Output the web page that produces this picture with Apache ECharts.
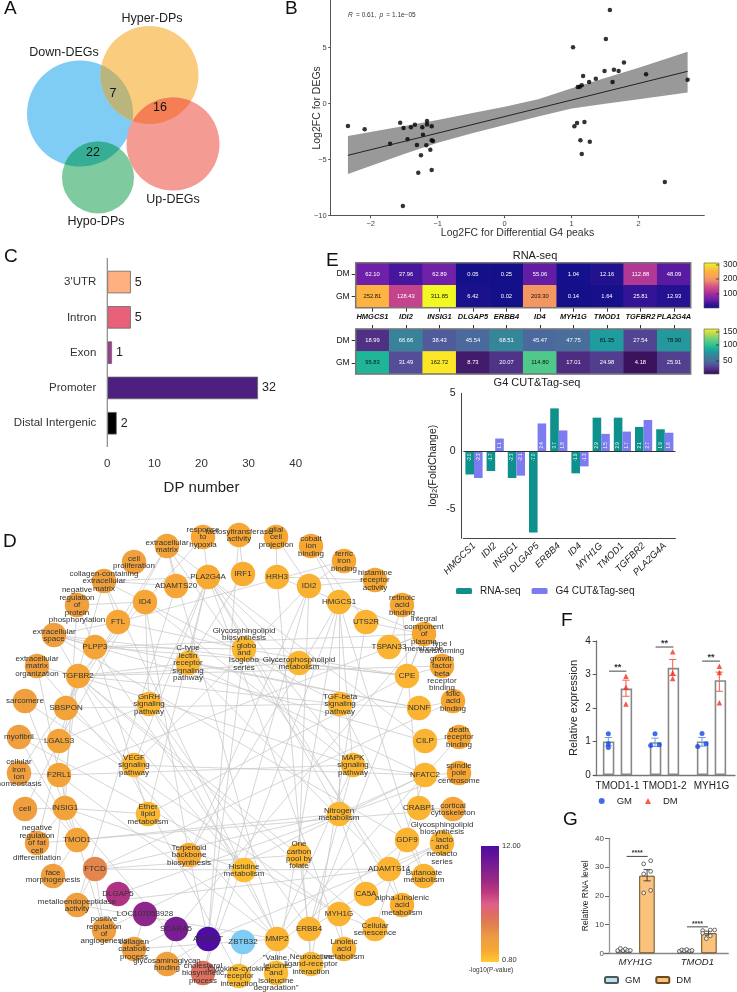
<!DOCTYPE html>
<html><head><meta charset="utf-8">
<style>html,body{margin:0;padding:0;background:#fff}#c{width:737px;height:992px}</style>
<script src="https://cdn.jsdelivr.net/npm/echarts@6/dist/echarts.min.js"></script>
</head><body><div id="c"></div>
<script>
const FONT='"Liberation Sans",Arial,sans-serif';
// A: Venn
const vennNames=['Down-DEGs','Hyper-DPs','Up-DEGs','Hypo-DPs'];
const vennCenters=[[80,113.5],[149.5,75],[173,144],[98,177.5]];
const vennRadii=[53,49,46.5,36];
const vennColors=['#7FCDF5','#F9CC7E','#F49B93','#7FCB9F'];
const vennOverlaps=[[0,1],[1,2],[0,3]];
const vennOverlapColors=['#B9B57C','#F47F55','#35AE95'];
const vennOverlapCounts=['7','16','22'];
// B: scatter
const scatterX=[-2.34,-2.09,-1.56,-1.51,-1.40,-1.34,-1.16,-1.16,-1.09,-1.23,-1.22,-1.45,-1.71,-1.31,-1.17,-1.09,-1.07,-1.11,-1.25,-1.29,-1.09,-1.52,1.02,1.51,1.57,1.17,1.49,1.63,1.70,1.78,2.11,2.73,1.61,1.36,1.26,1.15,1.12,1.09,1.04,1.08,1.19,1.13,1.27,1.15,2.39];
const scatterY=[-1.99,-2.29,-1.70,-2.17,-2.11,-1.88,-1.55,-1.85,-2.02,-2.11,-2.77,-3.18,-3.57,-3.69,-3.72,-3.27,-3.33,-4.11,-4.61,-6.16,-5.92,-9.14,5.03,5.77,8.36,2.47,2.92,3.04,2.92,3.69,2.62,2.14,1.93,2.23,1.93,1.64,1.52,1.49,-2.02,-1.73,-1.64,-3.27,-3.39,-4.49,-6.99];
const fitLine=[[-2.34,-4.61],[2.73,2.89]];
const bandX=[-2.34,-1.5,-1,-0.5,0,0.5,1,1.5,2,2.73];
const bandUpper=[-2.89,-2.0,-1.46,-0.85,-0.27,0.4,1.37,2.3,3.2,4.64];
const bandLower=[-6.28,-4.5,-3.48,-2.65,-1.9,-1.15,-0.42,0.0,0.4,1.01];
// C: bars
const regionNames=["3'UTR",'Intron','Exon','Promoter','Distal Intergenic'];
const regionCounts=[5,5,1,32,2];
const regionColors=['#FFB07F','#E8607A','#9E3C92','#4E1F80','#000000'];
// E
const genes=['HMGCS1','IDI2','INSIG1','DLGAP5','ERBB4','ID4','MYH1G','TMOD1','TGFBR2','PLA2G4A'];
const rnaDM=[62.10,37.96,62.89,0.05,0.25,55.06,1.04,12.16,112.88,48.09];
const rnaGM=[252.81,128.43,311.85,6.42,0.02,203.30,0.14,1.64,25.81,12.93];
const g4DM=[18.99,66.66,38.43,45.54,68.51,45.47,47.75,81.35,27.54,78.90];
const g4GM=[95.83,31.49,162.72,8.73,20.07,114.80,17.01,24.98,4.18,25.91];
const foldRNA=[-2.0,-1.7,-2.3,-7.0,3.7,-1.9,2.9,2.9,2.1,1.9];
const foldG4=[-2.3,1.1,-2.1,2.4,1.8,-1.3,1.5,1.7,2.7,1.6];
// F
const fCats=['TMOD1-1','TMOD1-2','MYH1G'];
const fGM=[1.0,0.98,1.0];
const fDM=[2.58,3.2,2.83];
const fGMErr=[[0.305,0.87,1.12],[1.298,0.85,1.1],[2.298,0.86,1.12]];
const fDMErr=[[0.68,2.35,2.83],[1.674,2.97,3.45],[2.667,2.5,3.07]];
const fGMPts=[[0.305,1.23],[0.305,0.93],[0.305,0.82],[1.298,1.23],[1.206,0.88],[1.389,0.9],[2.298,1.24],[2.206,0.85],[2.383,0.93]];
const fDMPts=[[0.68,2.95],[0.68,2.62],[0.68,2.12],[1.674,3.68],[1.674,3.05],[1.674,2.88],[2.667,3.25],[2.667,3.06],[2.667,2.16]];
const fSig=[[0.32,0.69,3.1],[1.31,1.69,3.82],[2.30,2.68,3.4]];
// G
const gCats=['MYH1G','TMOD1'];
const gGM=[1,1];
const gDM=[27,7];
const gDMErr=[[0.69,25.2,29.1],[1.68,6.3,7.7]];
const gGMPts=[[0.216,0.93],[0.259,1.7],[0.302,0.93],[0.34,1.5],[0.377,0.93],[0.42,1.0],[1.21,0.7],[1.25,1.2],[1.29,0.9],[1.33,1.3],[1.378,0.8],[1.415,1.0]];
const gDMPts=[[0.635,31.1],[0.748,32.2],[0.635,27.6],[0.748,28.5],[0.635,21],[0.748,21.9],[1.587,7.9],[1.71,8.1],[1.78,8.1],[1.645,5.1],[1.71,6.1],[1.587,7.0]];
const gSig=[[0.36,0.7,33.7],[1.334,1.673,9.2]];
// D: network [label, x, y, -log10(P)]
const networkNodes=[
['extracellular\nmatrix',167,546,2.5],['response\nto\nhypoxia',203,537,2.2],['lactosyltransferase\nactivity',239,535,2.0],['glial\ncell\nprojection',276,537,2.0],['cobalt\nion\nbinding',311,546,2.0],['ferric\niron\nbinding',344,561,2.0],['histamine\nreceptor\nactivity',375,580,2.0],['retinoic\nacid\nbinding',402,605,2.0],['integral\ncomponent\nof\nplasma\nmembrane',424,634,2.0],['type I\ntransforming\ngrowth\nfactor\nbeta\nreceptor\nbinding',442,666,2.0],['folic\nacid\nbinding',453,701,2.0],['death\nreceptor\nbinding',459,737,2.0],['spindle\npole\ncentrosome',459,773,2.0],['cortical\ncytoskeleton',453,809,2.2],['Glycosphingolipid\nbiosynthesis\n- lacto\nand\nneolacto\nseries',442,843,1.6],['Butanoate\nmetabolism',424,876,1.5],['alpha-Linolenic\nacid\nmetabolism',402,905,1.7],['Cellular\nsenescence',375,929,1.5],['Linoleic\nacid\nmetabolism',344,949,1.6],['Neuroactive\nligand-receptor\ninteraction',311,964,1.3],['"Valine,\nleucine\nand\nisoleucine\ndegradation"',276,973,1.3],['Cytokine-cytokine\nreceptor\ninteraction',239,976,1.3],['cholesterol\nbiosynthetic\nprocess',203,973,5.2],['glycosaminoglycan\nbinding',167,964,2.9],['collagen\ncatabolic\nprocess',134,949,2.9],['positive\nregulation\nof\nangiogenesis',104,930,2.9],['metalloendopeptidase\nactivity',77,905,2.9],['face\nmorphogenesis',53,876,2.9],['negative\nregulation\nof fat\ncell\ndifferentiation',37,843,2.9],['cell',25,809,2.9],['cellular\niron\nion\nhomeostasis',19,773,2.9],['myofibril',19,737,2.9],['sarcomere',25,701,2.9],['extracellular\nmatrix\norganization',37,666,2.9],['extracellular\nspace',54,635,2.9],['negative\nregulation\nof\nprotein\nphosphorylation',77,605,2.9],['collagen-containing\nextracellular\nmatrix',104,581,2.9],['cell\nproliferation',134,562,2.7],
['PLA2G4A',208,577,1.9],['IRF1',243,574,1.8],['HRH3',277,577,1.6],['IDI2',309,586,1.6],['HMGCS1',339,602,1.5],['UTS2R',366,622,1.5],['TSPAN33',389,647,1.5],['CPE',407,676,1.5],['NDNF',419,708,1.5],['CILP',425,741,1.5],['NFATC2',425,775,1.5],['CRABP1',419,808,1.5],['GDF9',407,840,1.5],['ADAMTS14',389,869,1.5],['CA5A',366,894,1.5],['MYH1G',339,914,1.5],['ERBB4',309,929,1.5],['MMP2',277,939,1.5],['ZBTB32',243,942,0.5],['A4GALT',208,939,12],['SCARA5',176,929,10],['LOC107053928',145,914,9.2],['DLGAP5',118,894,8],['FTCD',95,869,4.2],['TMOD1',77,840,2.5],['INSIG1',65,808,2.5],['F2RL1',59,775,2.5],['LGALS3',59,741,2.5],['SBSPON',66,708,2.5],['TGFBR2',78,676,2.3],['PLPP3',95,647,2.3],['FTL',118,622,2.2],['ID4',145,602,2.2],['ADAMTS20',176,586,2.2],
['C-type\nlectin\nreceptor\nsignaling\npathway',188,663,1.4],['Glycosphingolipid\nbiosynthesis\n- globo\nand\nisoglobo\nseries',244,649,1.4],['Glycerophospholipid\nmetabolism',299,663,1.4],['GnRH\nsignaling\npathway',149,704,1.4],['TGF-beta\nsignaling\npathway',340,704,1.4],['VEGF\nsignaling\npathway',134,765,1.4],['MAPK\nsignaling\npathway',353,765,1.4],['Ether\nlipid\nmetabolism',148,814,1.4],['Nitrogen\nmetabolism',339,814,1.4],['Terpenoid\nbackbone\nbiosynthesis',189,855,1.8],['One\ncarbon\npool by\nfolate',299,855,1.4],['Histidine\nmetabolism',244,870,1.2]
];
const networkEdges={
'extracellular matrix':['ADAMTS20','ADAMTS14','MMP2','LGALS3','CILP','SBSPON'],
'response to hypoxia':['PLA2G4A','TGFBR2'],
'lactosyltransferase activity':['IRF1','A4GALT'],
'glial cell projection':['HRH3','IDI2'],
'cobalt ion binding':['UTS2R','HMGCS1'],
'ferric iron binding':['IDI2','FTL'],
'histamine receptor activity':['HRH3','IDI2'],
'retinoic acid binding':['CRABP1','TSPAN33'],
'integral component of plasma membrane':['UTS2R','TSPAN33','HRH3','SCARA5','ERBB4','F2RL1','PLPP3','CPE'],
'type I transforming growth factor beta receptor binding':['TGFBR2','CPE'],
'folic acid binding':['FTCD','NDNF'],
'death receptor binding':['CILP','MMP2'],
'spindle pole centrosome':['DLGAP5','NFATC2'],
'cortical cytoskeleton':['CRABP1','TMOD1'],
'collagen-containing extracellular matrix':['PLA2G4A','ADAMTS20','ID4','LGALS3','MMP2','FTL'],
'negative regulation of protein phosphorylation':['PLPP3','ID4','INSIG1'],
'extracellular space':['PLPP3','TGFBR2','FTL','GDF9','CILP','NDNF','CPE'],
'extracellular matrix organization':['TGFBR2','MMP2','F2RL1'],
'sarcomere':['MYH1G','TMOD1'],
'myofibril':['MYH1G','TMOD1','LGALS3'],
'cellular iron ion homeostasis':['FTL','F2RL1','TMOD1'],
'cell':['LGALS3','INSIG1'],
'negative regulation of fat cell differentiation':['INSIG1','TMOD1','TGFBR2'],
'face morphogenesis':['TGFBR2','TMOD1'],
'metalloendopeptidase activity':['ADAMTS20','ADAMTS14','MMP2','FTCD'],
'positive regulation of angiogenesis':['F2RL1','NFATC2','FTCD'],
'collagen catabolic process':['MMP2','SCARA5','LOC107053928'],
'glycosaminoglycan binding':['SCARA5','A4GALT'],
'cholesterol biosynthetic process':['HMGCS1','IDI2','INSIG1'],
'Cytokine-cytokine receptor interaction':['TGFBR2','GDF9','ZBTB32'],
'"Valine, leucine and isoleucine degradation"':['HMGCS1','MMP2'],
'Neuroactive ligand-receptor interaction':['HRH3','UTS2R','F2RL1','ERBB4'],
'Linoleic acid metabolism':['PLA2G4A','MYH1G'],
'Cellular senescence':['TGFBR2','NFATC2','MYH1G'],
'alpha-Linolenic acid metabolism':['PLA2G4A','ADAMTS14'],
'Butanoate metabolism':['HMGCS1','GDF9'],
'Glycosphingolipid biosynthesis - lacto and neolacto series':['A4GALT','ADAMTS14','ERBB4'],
'One carbon pool by folate':['FTCD','TGFBR2','IDI2','ERBB4'],
'Nitrogen metabolism':['CA5A','FTCD','PLA2G4A','HMGCS1','TMOD1','NFATC2'],
'Histidine metabolism':['FTCD','TGFBR2','PLPP3','ADAMTS14','INSIG1'],
'Terpenoid backbone biosynthesis':['IDI2','HMGCS1','A4GALT','ID4'],
'Ether lipid metabolism':['PLA2G4A','PLPP3','INSIG1','CPE'],
'VEGF signaling pathway':['PLA2G4A','NFATC2','IDI2','SBSPON'],
'MAPK signaling pathway':['PLA2G4A','TGFBR2','ERBB4','NFATC2','ID4','HMGCS1','MMP2','F2RL1'],
'TGF-beta signaling pathway':['TGFBR2','ID4','GDF9','NDNF','SBSPON'],
'GnRH signaling pathway':['PLA2G4A','MMP2','ERBB4','ID4','LGALS3'],
'Glycerophospholipid metabolism':['PLA2G4A','PLPP3','CPE','TGFBR2'],
'Glycosphingolipid biosynthesis - globo and isoglobo series':['A4GALT','PLPP3','CPE','TSPAN33','FTL'],
'C-type lectin receptor signaling pathway':['PLA2G4A','NFATC2','IRF1','TGFBR2','ADAMTS14','NDNF']
};
// colour scales
const networkRamp=['#FFC933','#F7A832','#EE9E40','#E2874C','#DD6E60','#DE5F88','#BE3A80','#9A2A84','#7F2090','#661498','#4E0CA0'];
const plasmaRamp=['#14108A','#3A1499','#7020A8','#9C2AA0','#C0408F','#D65C82','#EE8A6A','#F8A256','#FDB042','#F6D03A','#F0F921'];
const viridisRamp=['#340A52','#4E2A80','#54509A','#48709C','#3A8098','#1F9C9E','#1FB896','#4CC98A','#80D070','#C0DC50','#FDE725'];
const outOfScaleColor='#7FCDF5';

function rampColor(ramp,t){
 t=Math.max(0,Math.min(1,t))*(ramp.length-1);
 const i=Math.min(Math.floor(t),ramp.length-2),f=t-i;
 const h=s=>[1,3,5].map(k=>parseInt(s.substr(k,2),16));
 const a=h(ramp[i]),b=h(ramp[i+1]);
 return 'rgb('+a.map((v,k)=>Math.round(v+(b[k]-v)*f)).join(',')+')';
}
const gradient=ramp=>ramp.map((c,i)=>({offset:1-i/(ramp.length-1),color:c}));

const lab=n=>n.replace(/\n/g,' ');
const idx={}; networkNodes.forEach((n,i)=>idx[lab(n[0])]=i);
const links=[];
Object.keys(networkEdges).forEach(k=>networkEdges[k].forEach(g=>{ if(idx[k]!==undefined&&idx[g]!==undefined) links.push({source:idx[k],target:idx[g]}); }));

function T(text,x,y,size,o){o=o||{};return {type:'text',z:50,silent:true,rotation:o.rot||0,x:x,y:y,style:Object.assign({text:text,fill:o.fill||'#222',font:(o.style||'')+' '+size+'px '+FONT,textAlign:o.align||'center',textVerticalAlign:'middle'},o.extra||{})};}
const graphic=[];
[['A',4,9],['B',285,9],['C',4,257],['D',3,542],['E',326,261],['F',561,621],['G',563,820]].forEach(p=>graphic.push(T(p[0],p[1],p[2],19,{align:'left',fill:'#111'})));
[['Hyper-DPs',152,19],['Down-DEGs',64,53],['Up-DEGs',173,200],['Hypo-DPs',96,222]].forEach(p=>graphic.push(T(p[0],p[1],p[2],12.5)));
[[113,94],[160,108],[93,153]].forEach((p,i)=>graphic.push(T(vennOverlapCounts[i],p[0],p[1],12.5,{fill:'#111'})));
graphic.push({type:'text',z:50,silent:true,x:348,y:15,style:{rich:{i:{fontStyle:'italic',fontSize:6.5,fontFamily:FONT,fill:'#333'},n:{fontSize:6.5,fontFamily:FONT,fill:'#333'}},text:'{i|R} {n|= 0.61,} {i|p} {n|= 1.1e−05}',textVerticalAlign:'middle'}});
graphic.push(T('RNA-seq',535,256,11));
graphic.push(T('G4 CUT&Tag-seq',537,383,11));
[['300',265],['200',279],['100',294]].forEach(p=>{graphic.push(T(p[0],723,p[1],8.5,{align:'left'}));graphic.push({type:'line',z:45,silent:true,shape:{x1:716,y1:p[1],x2:719,y2:p[1]},style:{stroke:'#222',lineWidth:0.7}});});
[['150',332],['100',345],['50',361]].forEach(p=>{graphic.push(T(p[0],723,p[1],8.5,{align:'left'}));graphic.push({type:'line',z:45,silent:true,shape:{x1:716,y1:p[1],x2:719,y2:p[1]},style:{stroke:'#222',lineWidth:0.7}});});
graphic.push(T('12.00',502,846,7.5,{align:'left',fill:'#333'}));
graphic.push(T('0.80',502,960,7.5,{align:'left',fill:'#333'}));
graphic.push(T('-log10(P-value)',491,970,6.5,{fill:'#333'}));
// colour bars
[[704,263,15,45,plasmaRamp],[704,329,15,45,viridisRamp],[481,846,18,116,networkRamp]].forEach(b=>graphic.push({type:'rect',z:40,silent:true,shape:{x:b[0],y:b[1],width:b[2],height:b[3]},style:{fill:new echarts.graphic.LinearGradient(0,0,0,1,gradient(b[4])),stroke:b[4]===networkRamp?null:'#555',lineWidth:0.6}}));
// heatmap frames and the extended axis of C
[[355.7,262.7,335,45],[355.7,329,335,45]].forEach(r=>graphic.push({type:'rect',z:40,silent:true,shape:{x:r[0],y:r[1],width:r[2],height:r[3]},style:{fill:'none',stroke:'#777',lineWidth:1.5}}));
graphic.push({type:'line',z:40,silent:true,shape:{x1:107.3,y1:258,x2:107.3,y2:447},style:{stroke:'#888',lineWidth:1.2}});

const grids=[],xAxes=[],yAxes=[],series=[];
function G(l,t,w,h){grids.push({left:l,top:t,width:w,height:h,containLabel:false,outerBoundsMode:'none'});return grids.length-1;}
const hidden=(g,min,max,inv)=>({gridIndex:g,type:'value',show:false,min:min,max:max,inverse:!!inv,splitLine:{show:false}});
const page=G(0,0,737,992); xAxes.push(hidden(page,0,737)); yAxes.push(hidden(page,0,992,true));
const P=0;

series.push({type:'graph',name:'network',coordinateSystem:'cartesian2d',xAxisIndex:P,yAxisIndex:P,layout:'none',silent:true,animation:false,symbol:'circle',symbolSize:24.5,z:2,
 data:networkNodes.map(n=>({name:n[0],value:[n[1],n[2]],symbolSize:24.5,itemStyle:{opacity:1,color:n[3]<0.8?outOfScaleColor:rampColor(networkRamp,(n[3]-0.8)/11.2)}})),links:links,
 lineStyle:{color:'#C8C8C8',width:0.75,opacity:1,curveness:0},
 label:{show:true,position:'inside',color:'#333',fontSize:8,lineHeight:7.4,fontFamily:FONT,align:'center',verticalAlign:'middle'}});

// A
series.push({type:'scatter',name:'venn',xAxisIndex:P,yAxisIndex:P,silent:true,animation:false,z:2,
 data:vennCenters.map((c,i)=>({name:vennNames[i],value:c,symbolSize:2*vennRadii[i],itemStyle:{color:vennColors[i],opacity:1}}))});
series.push({type:'custom',name:'venn overlap',xAxisIndex:P,yAxisIndex:P,silent:true,animation:false,clip:false,z:5,
 data:vennOverlaps.map(o=>[vennCenters[o[0]][0],vennCenters[o[0]][1]]),encode:{x:0,y:1},
 renderItem:(p,api)=>{
  const o=vennOverlaps[p.dataIndex],a=vennCenters[o[0]],b=vennCenters[o[1]],r=vennRadii[o[0]],s=vennRadii[o[1]];
  const dx=b[0]-a[0],dy=b[1]-a[1],d=Math.hypot(dx,dy),base=Math.atan2(dy,dx);
  const ha=Math.acos((d*d+r*r-s*s)/(2*d*r)),hb=Math.acos((d*d+s*s-r*r)/(2*d*s));
  const pts=[];
  for(let i=0;i<=30;i++){const t=base-ha+2*ha*i/30;pts.push(api.coord([a[0]+r*Math.cos(t),a[1]+r*Math.sin(t)]));}
  for(let i=0;i<=30;i++){const t=base+Math.PI-hb+2*hb*i/30;pts.push(api.coord([b[0]+s*Math.cos(t),b[1]+s*Math.sin(t)]));}
  return {type:'polygon',shape:{points:pts},style:{fill:vennOverlapColors[p.dataIndex]}};
 }});

// B
const gb=G(330.7,0,373.6,215.7);
const axB='#555';
xAxes.push({gridIndex:gb,type:'value',min:-2.597,max:2.979,splitLine:{show:false},axisLine:{lineStyle:{color:axB},onZero:false},axisTick:{customValues:[-2,-1,0,1,2],length:2.5,lineStyle:{color:axB}},axisLabel:{customValues:[-2,-1,0,1,2],fontSize:7.5,color:'#444',margin:4,fontFamily:FONT,formatter:v=>String(v).replace('-','−')},name:'Log2FC for Differential G4 peaks',nameLocation:'middle',nameGap:12,nameMoveOverlap:false,nameTextStyle:{fontSize:10.5,color:'#333',fontFamily:FONT}});
yAxes.push({gridIndex:gb,type:'value',min:-10,max:9.26,splitLine:{show:false},axisLine:{show:true,lineStyle:{color:axB},onZero:false},axisTick:{customValues:[-10,-5,0,5],length:2.5,lineStyle:{color:axB}},axisLabel:{customValues:[-10,-5,0,5],fontSize:7.5,color:'#444',margin:4,fontFamily:FONT,formatter:v=>String(v).replace('-','−')},name:'Log2FC for DEGs',nameLocation:'middle',nameGap:8,nameMoveOverlap:false,nameTextStyle:{fontSize:10.5,color:'#333',fontFamily:FONT}});
const bx=xAxes.length-1,by=yAxes.length-1;
series.push({type:'custom',name:'band',xAxisIndex:bx,yAxisIndex:by,silent:true,animation:false,data:[[bandX[0],bandUpper[0]]],encode:{x:0,y:1},
 renderItem:(p,api)=>{const pts=bandX.map((x,i)=>api.coord([x,bandUpper[i]])).concat(bandX.map((x,i)=>api.coord([x,bandLower[i]])).reverse());
  return {type:'polygon',shape:{points:pts},style:{fill:'#999999'}};}});
series.push({type:'line',name:'fit',xAxisIndex:bx,yAxisIndex:by,data:fitLine,showSymbol:false,silent:true,animation:false,lineStyle:{color:'#222',width:1}});
series.push({type:'scatter',name:'peaks',xAxisIndex:bx,yAxisIndex:by,data:scatterX.map((x,i)=>[x,scatterY[i]]),symbolSize:4.5,silent:true,animation:false,itemStyle:{color:'#000'}});

// C
const gc=G(107.3,264.4,188.4,176.5);
xAxes.push({gridIndex:gc,type:'value',min:0,max:40,interval:10,offset:5.8,splitLine:{show:false},axisLine:{lineStyle:{color:'#999',width:1.5},onZero:false},axisTick:{lineStyle:{color:'#888'},length:5},axisLabel:{fontSize:11.5,color:'#333',margin:11,fontFamily:FONT},name:'DP number',nameLocation:'middle',nameGap:34,nameMoveOverlap:false,nameTextStyle:{fontSize:15,color:'#222',fontFamily:FONT}});
yAxes.push({gridIndex:gc,type:'category',inverse:true,data:regionNames,axisLine:{show:false},axisTick:{alignWithLabel:true,length:7,lineStyle:{color:'#777'}},axisLabel:{fontSize:11.5,color:'#333',margin:11,fontFamily:FONT}});
series.push({type:'bar',name:'DP number',xAxisIndex:xAxes.length-1,yAxisIndex:yAxes.length-1,barWidth:22.5,silent:true,animation:false,
 data:regionCounts.map((v,i)=>({value:v,itemStyle:{color:regionColors[i],borderColor:'#666',borderWidth:0.8}})),
 label:{show:true,position:'right',distance:4,fontSize:12.5,color:'#222',fontFamily:FONT}});

// E heatmaps
function heat(top,dm,gm,showLabels,tickTop,cut){
 const g=G(355.7,top,335,45);
 xAxes.push({gridIndex:g,type:'category',data:genes,position:tickTop?'top':'bottom',splitArea:{show:false},axisLine:{show:false},axisTick:{show:true,alignWithLabel:true,length:4,lineStyle:{color:'#333'}},axisLabel:{show:showLabels,fontSize:7.5,fontStyle:'italic',fontWeight:'bold',color:'#111',margin:5,fontFamily:FONT,interval:0}});
 yAxes.push({gridIndex:g,type:'category',data:['GM','DM'],splitArea:{show:false},axisLine:{show:false},axisTick:{show:true,alignWithLabel:true,length:4,lineStyle:{color:'#333'}},axisLabel:{fontSize:8.5,color:'#111',margin:6,fontFamily:FONT}});
 const data=[];
 genes.forEach((n,i)=>{data.push({value:[i,1,dm[i]],label:{color:dm[i]>cut?'#111':'#fff'}});data.push({value:[i,0,gm[i]],label:{color:gm[i]>cut?'#111':'#fff'}});});
 series.push({type:'heatmap',name:'heat'+top,xAxisIndex:xAxes.length-1,yAxisIndex:yAxes.length-1,data:data,silent:true,animation:false,
  label:{show:true,fontSize:5.8,fontFamily:FONT,formatter:p=>p.value[2].toFixed(2)}});
 return series.length-1;
}
const h1=heat(262.7,rnaDM,rnaGM,true,false,200);
const h2=heat(329,g4DM,g4GM,false,true,75);

// E fold change
const ge=G(463.4,393.3,212,145);
xAxes.push({gridIndex:ge,type:'category',data:genes,axisLine:{lineStyle:{color:'#444'},onZero:false},axisTick:{alignWithLabel:true,length:4,lineStyle:{color:'#444'}},axisLabel:{interval:0,rotate:45,fontSize:9.5,fontStyle:'italic',color:'#222',margin:6,fontFamily:FONT}});
yAxes.push({gridIndex:ge,type:'value',min:-7.5,max:5,offset:1.7,splitLine:{show:false},axisLine:{show:true,onZero:false,lineStyle:{color:'#444'}},axisTick:{customValues:[-5,0,5],length:4,lineStyle:{color:'#444'}},axisLabel:{customValues:[-5,0,5],fontSize:10.5,color:'#222',margin:6,fontFamily:FONT},
 name:'{a|log}{b|2}{a|(FoldChange)}',nameLocation:'middle',nameGap:23,nameMoveOverlap:false,nameTextStyle:{rich:{a:{fontSize:10.5,color:'#222',fontFamily:FONT},b:{fontSize:7,color:'#222',fontFamily:FONT,verticalAlign:'bottom',padding:[4,0,0,0]}}}});
const foldData=arr=>arr.map(v=>({value:v,label:{position:v<0?'insideTop':'insideBottom'}}));
const foldLabel={show:true,rotate:90,fontSize:4.5,color:'#fff',distance:6,align:'center',verticalAlign:'middle',fontFamily:FONT,formatter:p=>p.value.toFixed(1)};
const ex=xAxes.length-1,ey=yAxes.length-1;
series.push({type:'bar',name:'RNA-seq',xAxisIndex:ex,yAxisIndex:ey,barWidth:8.6,barGap:'0%',data:foldData(foldRNA),itemStyle:{color:'#0E918C'},label:foldLabel,animation:false,
 markLine:{silent:true,symbol:'none',animation:false,label:{show:false},lineStyle:{color:'#333',width:1,type:'solid'},data:[{yAxis:0}]}});
series.push({type:'bar',name:'G4 CUT&Tag-seq',xAxisIndex:ex,yAxisIndex:ey,barWidth:8.6,barGap:'0%',data:foldData(foldG4),itemStyle:{color:'#7C7CF0'},label:foldLabel,animation:false});

// error bars and brackets
function errSeries(name,xi,yi,data,color,cap,lw){
 series.push({type:'custom',name:name,xAxisIndex:xi,yAxisIndex:yi,silent:true,animation:false,data:data,encode:{x:0,y:[1,2]},z:3,
  renderItem:(p,api)=>{const x=api.value(0),a=api.coord([x,api.value(1)]),b=api.coord([x,api.value(2)]);
   const st={stroke:color,lineWidth:lw,fill:null};
   return {type:'group',children:[{type:'line',shape:{x1:a[0],y1:a[1],x2:b[0],y2:b[1]},style:st},{type:'line',shape:{x1:a[0]-cap,y1:a[1],x2:a[0]+cap,y2:a[1]},style:st},{type:'line',shape:{x1:b[0]-cap,y1:b[1],x2:b[0]+cap,y2:b[1]},style:st}]};}});
}
function sigSeries(name,xi,yi,data,stars,size,lift){
 series.push({type:'custom',name:name,xAxisIndex:xi,yAxisIndex:yi,silent:true,animation:false,data:data,encode:{x:[0,1],y:2},z:4,
  renderItem:(p,api)=>{const a=api.coord([api.value(0),api.value(2)]),b=api.coord([api.value(1),api.value(2)]);
   return {type:'group',children:[{type:'line',shape:{x1:a[0],y1:a[1],x2:b[0],y2:b[1]},style:{stroke:'#333',lineWidth:0.9}},
    {type:'text',style:{text:stars,x:(a[0]+b[0])/2,y:a[1]-lift,font:'bold '+size+'px '+FONT,fill:'#333',textAlign:'center',textVerticalAlign:'middle'}}]};}});
}

// F
const gf=G(594,641,141,134);
xAxes.push({gridIndex:gf,type:'category',data:fCats,axisLine:{lineStyle:{color:'#777',width:1.3},onZero:false},axisTick:{alignWithLabel:true,length:3,lineStyle:{color:'#555'}},axisLabel:{interval:0,fontSize:10,color:'#222',margin:6,fontFamily:FONT}});
const fcx=xAxes.length-1;
xAxes.push(hidden(gf,0,3)); const fvx=xAxes.length-1;
yAxes.push({gridIndex:gf,type:'value',min:0,max:4,interval:1,offset:-2.7,splitLine:{show:false},axisLine:{show:true,onZero:false,lineStyle:{color:'#777',width:1.3}},axisTick:{length:4,lineStyle:{color:'#555'}},axisLabel:{fontSize:10,color:'#222',margin:6,fontFamily:FONT},name:'Relative expression',nameLocation:'middle',nameGap:17,nameMoveOverlap:false,nameTextStyle:{fontSize:11,color:'#222',fontFamily:FONT}});
const fy=yAxes.length-1;
const fBar={color:'#fff',borderColor:'#888',borderWidth:1.6};
series.push({type:'bar',name:'F bar GM',xAxisIndex:fcx,yAxisIndex:fy,barWidth:11.5,barGap:'55%',data:fGM,itemStyle:fBar,silent:true,animation:false});
series.push({type:'bar',name:'F bar DM',xAxisIndex:fcx,yAxisIndex:fy,barWidth:11.5,barGap:'55%',data:fDM,itemStyle:fBar,silent:true,animation:false});
errSeries('F err GM',fvx,fy,fGMErr,'#6F95EE',3.6,1);
errSeries('F err DM',fvx,fy,fDMErr,'#F2604A',3.6,1);
series.push({type:'scatter',name:'F GM',xAxisIndex:fvx,yAxisIndex:fy,data:fGMPts,symbol:'circle',symbolSize:5,itemStyle:{color:'#1447E6'},silent:true,animation:false,z:5});
series.push({type:'scatter',name:'F DM',xAxisIndex:fvx,yAxisIndex:fy,data:fDMPts,symbol:'triangle',symbolSize:5.5,itemStyle:{color:'#F2311F'},silent:true,animation:false,z:5});
sigSeries('F sig',fvx,fy,fSig,'**',9,4);

// G
const gg=G(604.3,838.3,124,115);
xAxes.push({gridIndex:gg,type:'category',data:gCats,axisLine:{lineStyle:{color:'#888',width:1.3},onZero:false},axisTick:{alignWithLabel:true,length:3,lineStyle:{color:'#555'}},axisLabel:{interval:0,fontSize:9.5,fontStyle:'italic',color:'#222',margin:4,fontFamily:FONT}});
const gcx=xAxes.length-1;
xAxes.push(hidden(gg,0,2)); const gvx=xAxes.length-1;
yAxes.push({gridIndex:gg,type:'value',min:0,max:40,interval:10,offset:-4.7,splitLine:{show:false},axisLine:{show:true,onZero:false,lineStyle:{color:'#999',width:1.3}},axisTick:{length:4,lineStyle:{color:'#666'}},axisLabel:{fontSize:8,color:'#444',margin:5,fontFamily:FONT},name:'Relative RNA level',nameLocation:'middle',nameGap:19,nameMoveOverlap:false,nameTextStyle:{fontSize:8.5,color:'#222',fontFamily:FONT}});
const gy=yAxes.length-1;
series.push({type:'bar',name:'G GM',xAxisIndex:gcx,yAxisIndex:gy,barWidth:15.5,barGap:'50%',data:gGM,itemStyle:{color:'#B5E3F5',borderColor:'#555',borderWidth:1},silent:true,animation:false});
series.push({type:'bar',name:'G DM',xAxisIndex:gcx,yAxisIndex:gy,barWidth:15.5,barGap:'50%',data:gDM,itemStyle:{color:'#FBC27D',borderColor:'#6B4A20',borderWidth:1},silent:true,animation:false});
errSeries('G err DM',gvx,gy,gDMErr,'#333',3.5,0.9);
const ringStyle={color:'#fff',borderColor:'#333',borderWidth:0.9};
series.push({type:'scatter',name:'G pts GM',xAxisIndex:gvx,yAxisIndex:gy,data:gGMPts,symbolSize:3.8,itemStyle:ringStyle,silent:true,animation:false,z:5});
series.push({type:'scatter',name:'G pts DM',xAxisIndex:gvx,yAxisIndex:gy,data:gDMPts,symbolSize:3.8,itemStyle:ringStyle,silent:true,animation:false,z:5});
sigSeries('G sig',gvx,gy,gSig,'****',7,3);

const legends=[
 {left:456,top:586,padding:0,itemWidth:16,itemHeight:6,itemGap:11,selectedMode:false,data:['RNA-seq','G4 CUT&Tag-seq'],textStyle:{fontSize:10,color:'#222',fontFamily:FONT,padding:[0,0,0,3]}},
 {left:598.7,top:796,padding:0,itemWidth:6,itemHeight:6,itemGap:13,selectedMode:false,data:['F GM','F DM'],formatter:n=>n.split(' ')[1],textStyle:{fontSize:9.5,color:'#222',fontFamily:FONT,padding:[0,0,0,7]}},
 {left:604,top:975,padding:0,itemWidth:13,itemHeight:6,itemGap:15,selectedMode:false,data:['G GM','G DM'],formatter:n=>n.split(' ')[1],textStyle:{fontSize:9.5,color:'#222',fontFamily:FONT,padding:[0,0,0,2]}}
];
const vm=(si,min,max,ramp)=>({type:'continuous',show:false,seriesIndex:si,dimension:2,min:min,max:max,inRange:{color:ramp}});
const visualMaps=[vm(h1,0,312,plasmaRamp),vm(h2,0,163,viridisRamp)];
const chart=echarts.init(document.getElementById('c'),null,{renderer:'canvas'});
chart.setOption({animation:false,backgroundColor:'#fff',textStyle:{fontFamily:FONT},grid:grids,xAxis:xAxes,yAxis:yAxes,series:series,legend:legends,visualMap:visualMaps,graphic:graphic});
</script></body></html>
